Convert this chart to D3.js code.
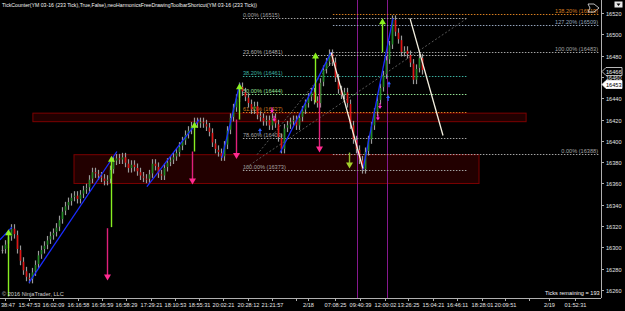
<!DOCTYPE html>
<html>
<head>
<meta charset="utf-8">
<script src="https://cdn.jsdelivr.net/npm/d3@7"></script>
<style>
  html, body { margin: 0; padding: 0; background: #000; overflow: hidden; }
  svg { display: block; }
  text { font-family: "Liberation Sans", Arial, sans-serif; }
</style>
</head>
<body>
<svg id="chart"></svg>
<script>
// ---- data ----
// one close per bar, YM 03-16 233 tick
const closes = [
  16298, 16303, 16310, 16318, 16312, 16298, 16287, 16278, 16272, 16270,
  16277, 16284, 16293, 16298, 16302, 16307, 16311, 16314, 16319, 16326,
  16334, 16339, 16343, 16347, 16349, 16345, 16350, 16354, 16356, 16364,
  16371, 16369, 16367, 16365, 16362, 16364, 16373, 16381, 16384, 16382,
  16385, 16379, 16374, 16378, 16375, 16371, 16367, 16365, 16364, 16369,
  16379, 16376, 16369, 16367, 16375, 16380, 16382, 16385, 16389, 16395,
  16400, 16406, 16410, 16414, 16418, 16416, 16418, 16416, 16413, 16408,
  16398, 16392, 16389, 16385, 16396, 16410, 16422, 16431, 16440, 16451,
  16446, 16441, 16435, 16429, 16433, 16424, 16422, 16418, 16420, 16414,
  16422, 16416, 16403, 16392, 16412, 16415, 16418, 16420, 16414, 16422,
  16429, 16435, 16441, 16446, 16438, 16435, 16455, 16467, 16474, 16482,
  16474, 16459, 16448, 16443, 16446, 16435, 16415, 16401, 16392, 16382,
  16373, 16390, 16401, 16414, 16427, 16438, 16450, 16462, 16476, 16490,
  16514, 16502, 16495, 16483, 16485, 16481, 16473, 16457, 16468, 16478, 16466
];

const yTicks = [16260, 16280, 16300, 16320, 16340, 16360, 16380, 16400, 16420, 16440, 16460, 16480, 16500, 16520];

const timeLabels = ['38:47', '15:47:53', '16:02:09', '16:16:58', '16:36:59', '16:58:29', '17:29:21',
  '18:10:53', '18:55:31', '20:02:21', '20:28:12', '21:21:57', '', '2/18', '07:08:25', '09:40:39',
  '12:00:02', '13:26:25', '15:04:21', '16:46:11', '18:28:01', '20:09:51', '', '2/19', '01:52:31'];
// time slot of each label (one slot = one regular tick interval)
const timeSlots = [0, 1, 2, 3, 4, 5, 6, 7, 8, 9, 10, 11, 12, 12.5, 13.6, 14.65, 15.65, 16.6,
  17.65, 18.65, 19.65, 20.6, 21.6, 22.45, 23.5];

// swing lines (bar index, price)
const upSwings = [
  [-0.7, 16307, 3.3, 16319],
  [9, 16267, 38.3, 16390],
  [48.3, 16357, 65.7, 16420],
  [73.3, 16384, 79.3, 16454],
  [92.7, 16389, 109.7, 16483],
  [120.3, 16373, 130.3, 16515]
];
const downSwings = [
  [109.7, 16483, 120.3, 16374],
  [136, 16515, 147, 16405]
];

// supply / demand zones: start bar, end bar, top, bottom
const zones = [
  [10.3, 174.7, 16426, 16418],
  [24, 159, 16387, 16360]
];

// retracement drawing
const fibA = { start: 80.3, end: 155 };
const fibAPct = ['0.00%', '23.60%', '38.20%', '50.00%', '61.80%', '78.60%', '100.00%'];
const fibAPrice = [16515, 16481, 16461, 16444, 16427, 16403, 16373];

// extension drawing
const fibB = { start: 110.3, end: 199.3 };
const fibBPct = ['138.20%', '127.20%', '100.00%', '0.00%'];
const fibBPrice = [16519, 16509, 16483, 16388];

// diagonals (dashed)
const diagonals = [
  [80.3, 16373, 155, 16515],
  [85, 16387, 112, 16481]
];

// session lines (bar index)
const sessionBars = [118.3, 128.3];

// signal arrows: bar, tail price, tip price
const longArrows = [
  [2, 16254, 16317],
  [36.3, 16319, 16386],
  [64, 16390, 16418],
  [79, 16420, 16454],
  [104.3, 16436, 16483],
  [126.7, 16483, 16515]
];
const shortArrows = [
  [35, 16318, 16269],
  [63.3, 16390, 16359],
  [78, 16420, 16383],
  [105.7, 16454, 16389]
];
const targetArrows = [
  [115.7, 16389, 16374]
];
// small markers: bar, price
const blueMarks = [[86, 16412], [129, 16456], [128.7, 16443]];
const pinkMarks = [[90, 16426], [90.7, 16418], [126, 16430], [125.3, 16419]];

const lastPrice = 16453;
const markPrice = 16466;

// ---- layout ----
const width = 625;
const height = 311;
const plotRight = 601;
const plotBottom = 298;
const fs = '5.6px';

const svg = d3.select('#chart')
  .attr('width', width)
  .attr('height', height);

svg.append('rect')
  .attr('width', width)
  .attr('height', height)
  .attr('fill', '#000');

const x = d3.scaleLinear().domain([0, closes.length - 1]).range([2, 422]);
const y = d3.scaleLinear().domain([16260, 16520]).range([290, 13]);
const xt = d3.scaleLinear().domain([0, 12]).range([5, 296]);

svg.append('clipPath').attr('id', 'plot')
  .append('rect').attr('width', plotRight).attr('height', plotBottom);

const g = svg.append('g').attr('clip-path', 'url(#plot)');

// zones
g.selectAll('.zone')
  .data(zones)
  .enter()
  .append('rect')
  .attr('x', d => x(d[0]))
  .attr('width', d => x(d[1]) - x(d[0]))
  .attr('y', d => y(d[2]))
  .attr('height', d => y(d[3]) - y(d[2]))
  .attr('fill', '#220000')
  .attr('stroke', '#7c0000')
  .attr('stroke-width', 1);

// session lines
g.selectAll('.session')
  .data(sessionBars)
  .enter()
  .append('line')
  .attr('x1', d => Math.round(x(d)) + 0.5)
  .attr('x2', d => Math.round(x(d)) + 0.5)
  .attr('y1', 0)
  .attr('y2', plotBottom)
  .attr('stroke', '#86188e')
  .attr('stroke-width', 1);

// fib retracement
const fibAColors = ['#a4a4a4', '#b0b0b0', '#3cb0a0', '#94e094', '#d87e20', '#a4a4a4', '#a4a4a4'];
fibAPrice.forEach((p, i) => {
  const yy = Math.round(y(p)) + 0.5;
  g.append('line')
    .attr('x1', x(fibA.start)).attr('x2', x(fibA.end))
    .attr('y1', yy).attr('y2', yy)
    .attr('stroke', fibAColors[i])
    .attr('stroke-width', 1)
    .attr('stroke-dasharray', '1.5,1.5');
  g.append('text')
    .attr('x', x(fibA.start))
    .attr('y', yy - 2)
    .attr('font-size', fs)
    .attr('fill', fibAColors[i])
    .text(`${fibAPct[i]} (${p})`);
});

// fib extension
const fibBColors = ['#d87e20', '#94a4bc', '#a4a4a4', '#a4a4a4'];
fibBPrice.forEach((p, i) => {
  const yy = Math.round(y(p)) + 0.5;
  g.append('line')
    .attr('x1', x(fibB.start)).attr('x2', x(fibB.end))
    .attr('y1', yy).attr('y2', yy)
    .attr('stroke', fibBColors[i])
    .attr('stroke-width', 1)
    .attr('stroke-dasharray', '1.5,1.5');
  g.append('text')
    .attr('x', 598)
    .attr('y', yy - 2)
    .attr('text-anchor', 'end')
    .attr('font-size', fs)
    .attr('fill', fibBColors[i])
    .text(`${fibBPct[i]} (${p})`);
});

// dashed diagonals
g.selectAll('.diag')
  .data(diagonals)
  .enter()
  .append('line')
  .attr('x1', d => x(d[0])).attr('y1', d => y(d[1]))
  .attr('x2', d => x(d[2])).attr('y2', d => y(d[3]))
  .attr('stroke', '#585858')
  .attr('stroke-width', 1)
  .attr('stroke-dasharray', '2,2');

// candles
const bars = g.append('g').attr('id', 'bars');
closes.forEach((c, i) => {
  const o = i ? closes[i - 1] : c;
  const top = y(Math.max(o, c));
  const bot = y(Math.min(o, c));
  const cx = Math.round(x(i)) + 0.5;
  bars.append('line')
    .attr('x1', cx).attr('x2', cx)
    .attr('y1', top - 4).attr('y2', bot + 4)
    .attr('stroke', '#9a9a9a')
    .attr('stroke-width', 1.2);
  bars.append('rect')
    .attr('x', cx - 0.8)
    .attr('width', 1.6)
    .attr('y', top + 0.5)
    .attr('height', Math.max(1, bot - top - 1))
    .attr('fill', c > o ? '#1f8a22' : (c < o ? '#e01414' : '#9a9a9a'));
});

// swing lines
g.selectAll('.up')
  .data(upSwings)
  .enter()
  .append('line')
  .attr('x1', d => x(d[0])).attr('y1', d => y(d[1]))
  .attr('x2', d => x(d[2])).attr('y2', d => y(d[3]))
  .attr('stroke', '#1a2cff')
  .attr('stroke-width', 1.3);

g.selectAll('.down')
  .data(downSwings)
  .enter()
  .append('line')
  .attr('x1', d => x(d[0])).attr('y1', d => y(d[1]))
  .attr('x2', d => x(d[2])).attr('y2', d => y(d[3]))
  .attr('stroke', '#f4f0e0')
  .attr('stroke-width', 1.3);

// arrows
function arrow(sel, data, lineColor, headColor) {
  data.forEach(d => {
    const ax = Math.round(x(d[0])) + 0.5;
    const tail = y(d[1]);
    const tip = y(d[2]);
    const dir = tip < tail ? 1 : -1;
    sel.append('line')
      .attr('x1', ax).attr('x2', ax)
      .attr('y1', tail).attr('y2', tip + dir * 4)
      .attr('stroke', lineColor)
      .attr('stroke-width', 1.4);
    sel.append('path')
      .attr('d', `M${ax},${tip} L${ax - 3.5},${tip + dir * 6} L${ax + 3.5},${tip + dir * 6} Z`)
      .attr('fill', headColor);
  });
}
arrow(g, longArrows, '#88ee22', '#8cf020');
arrow(g, shortArrows, '#e0207a', '#ff2a90');
arrow(g, targetArrows, '#8fb82a', '#a4d02a');

// small markers
blueMarks.forEach(d => {
  const ax = x(d[0]), ay = y(d[1]);
  g.append('path')
    .attr('d', `M${ax},${ay} L${ax - 2},${ay + 3} L${ax + 2},${ay + 3} Z M${ax - 0.6},${ay + 3} h1.2 v3 h-1.2 Z`)
    .attr('fill', '#2b5cff');
});
pinkMarks.forEach(d => {
  const ax = x(d[0]), ay = y(d[1]);
  g.append('path')
    .attr('d', `M${ax},${ay} L${ax - 2},${ay - 3} L${ax + 2},${ay - 3} Z M${ax - 0.6},${ay - 3} h1.2 v-3 h-1.2 Z`)
    .attr('fill', '#ff2ad0');
});

// ---- axes ----
const axisColor = '#b0b0b0';
const textColor = '#e4e4e4';

svg.append('line')
  .attr('x1', plotRight + 0.5).attr('x2', plotRight + 0.5)
  .attr('y1', 0).attr('y2', plotBottom)
  .attr('stroke', axisColor);
svg.append('line')
  .attr('x1', 0).attr('x2', plotRight)
  .attr('y1', plotBottom + 0.5).attr('y2', plotBottom + 0.5)
  .attr('stroke', axisColor);

const yAxis = svg.append('g');
yTicks.forEach(t => {
  const yy = Math.round(y(t)) + 0.5;
  yAxis.append('line')
    .attr('x1', plotRight).attr('x2', plotRight + 3)
    .attr('y1', yy).attr('y2', yy)
    .attr('stroke', axisColor);
  yAxis.append('text')
    .attr('x', 606)
    .attr('y', yy + 2)
    .attr('font-size', fs)
    .attr('fill', textColor)
    .text(t);
});

const xAxis = svg.append('g');
timeLabels.forEach((t, i) => {
  const xx = Math.round(xt(timeSlots[i])) + 0.5;
  xAxis.append('line')
    .attr('x1', xx).attr('x2', xx)
    .attr('y1', plotBottom).attr('y2', plotBottom + 3)
    .attr('stroke', axisColor);
  if (t) {
    xAxis.append('text')
      .attr('x', i === 0 ? 1 : xx)
      .attr('y', 307)
      .attr('text-anchor', i === 0 ? 'start' : 'middle')
      .attr('font-size', fs)
      .attr('fill', textColor)
      .text(t);
  }
});

// price markers on axis
function priceTag(p, fill, stroke, color) {
  const yy = Math.round(y(p)) + 0.5;
  svg.append('path')
    .attr('d', `M${plotRight + 1},${yy} L${plotRight + 5},${yy - 4} H622 V${yy + 4} H${plotRight + 5} Z`)
    .attr('fill', fill)
    .attr('stroke', stroke)
    .attr('stroke-width', 0.8);
  svg.append('text')
    .attr('x', 606)
    .attr('y', yy + 2)
    .attr('font-size', fs)
    .attr('fill', color)
    .text(p);
}
priceTag(markPrice, '#000', '#e8e8e8', '#f0f0f0');
priceTag(lastPrice, '#ffffff', '#ffffff', '#000');

// ---- texts ----
svg.append('text')
  .attr('x', 2)
  .attr('y', 7)
  .attr('font-size', fs)
  .attr('fill', '#f4f4f4')
  .attr('textLength', 255)
  .attr('lengthAdjust', 'spacingAndGlyphs')
  .text('TickCounter(YM 03-16 (233 Tick),True,False),neoHarmonicsFreeDrawingToolbarShortcut(YM 03-16 (233 Tick))');

svg.append('text')
  .attr('x', 2)
  .attr('y', 296)
  .attr('font-size', fs)
  .attr('fill', '#d0d0d0')
  .text('\u00a9 2016 NinjaTrader, LLC');

svg.append('text')
  .attr('x', 545)
  .attr('y', 295)
  .attr('font-size', fs)
  .attr('fill', '#f4f4f4')
  .text('Ticks remaining = 193');

// toolbar button top right
svg.append('rect')
  .attr('x', 614.5).attr('y', 1.5)
  .attr('width', 8).attr('height', 6)
  .attr('fill', '#e8e8e8');
svg.append('path')
  .attr('d', 'M616.5,3.5 h4 l-2,2.5 Z')
  .attr('fill', '#000');

// drawing handle near the extension label
svg.append('path')
  .attr('d', 'M588,4 L594,4 L599,8 L594,12 L588,12 L590,8 Z')
  .attr('fill', 'none')
  .attr('stroke', '#e8e8e8')
  .attr('stroke-width', 0.8);
</script>
</body>
</html>
